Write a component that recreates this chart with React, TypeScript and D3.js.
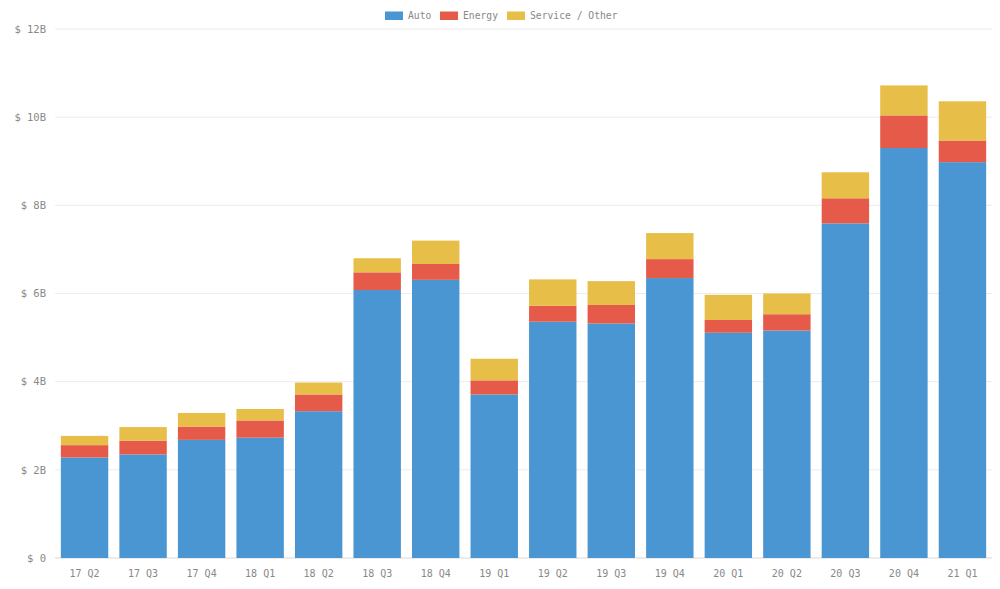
import React from "react";
import * as d3 from "d3";

const categories = ["17 Q2","17 Q3","17 Q4","18 Q1","18 Q2","18 Q3","18 Q4","19 Q1","19 Q2","19 Q3","19 Q4","20 Q1","20 Q2","20 Q3","20 Q4","21 Q1"];
const auto = [2.28, 2.35, 2.68, 2.73, 3.33, 6.08, 6.31, 3.71, 5.36, 5.32, 6.35, 5.11, 5.16, 7.59, 9.30, 8.98];
const energy = [0.28, 0.31, 0.30, 0.39, 0.38, 0.40, 0.36, 0.32, 0.36, 0.42, 0.43, 0.29, 0.37, 0.57, 0.74, 0.49];
const service = [0.21, 0.31, 0.31, 0.26, 0.27, 0.32, 0.53, 0.49, 0.60, 0.54, 0.59, 0.57, 0.47, 0.59, 0.68, 0.89];
const seriesNames = ["Auto", "Energy", "Service / Other"];
const colors = ["#4a96d3", "#e55a48", "#e6be48"];
const yTicks = [0, 2, 4, 6, 8, 10, 12];

const W = 1000, H = 589;
const left = 55, right = 992, top = 29, bottom = 558;
const font = "'DejaVu Sans Mono', monospace";

export default function App() {
  const x = d3.scaleBand().domain(categories).range([left, right]).paddingInner(0.19).paddingOuter(0.1);
  const y = d3.scaleLinear().domain([0, 12]).range([bottom, top]);
  const rows = categories.map((c, i) => ({ cat: c, Auto: auto[i], Energy: energy[i], "Service / Other": service[i] }));
  const stacked = d3.stack<any>().keys(seriesNames)(rows);
  const legendX = [385, 440, 507];
  return (
    <svg width={W} height={H} style={{ position: "absolute", left: 0, top: 0, background: "#fff" }}>
      {yTicks.map(t => (
        <g key={t}>
          <line x1={left} x2={right} y1={y(t)} y2={y(t)} stroke={t === 0 ? "#d8d8d8" : "#ececec"} strokeWidth={1} />
          <text x={46} y={y(t)} dy="0.35em" textAnchor="end" fontFamily={font} fontSize={10.5} fill="#888888">{`$ ${t === 0 ? "0" : t + "B"}`}</text>
        </g>
      ))}
      {stacked.map((s, si) => (
        <g key={s.key} fill={colors[si]}>
          {s.map((d, i) => (
            <rect key={i} x={x(categories[i])} width={x.bandwidth()} y={y(d[1])} height={y(d[0]) - y(d[1])} />
          ))}
        </g>
      ))}
      {categories.map(c => (
        <text key={c} x={(x(c) as number) + x.bandwidth() / 2} y={573} dy="0.35em" textAnchor="middle" fontFamily={font} fontSize={10} fill="#888888">{c}</text>
      ))}
      {seriesNames.map((n, i) => (
        <g key={n}>
          <rect x={legendX[i]} y={11.5} width={18} height={8.5} fill={colors[i]} />
          <text x={legendX[i] + 23} y={15.5} dy="0.35em" fontFamily={font} fontSize={9.7} fill="#888888">{n}</text>
        </g>
      ))}
    </svg>
  );
}
